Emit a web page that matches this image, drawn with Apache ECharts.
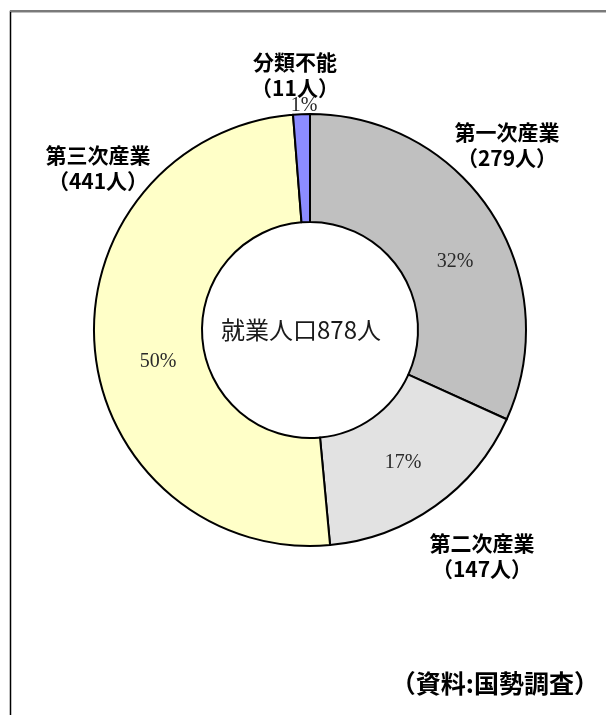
<!DOCTYPE html>
<html>
<head>
<meta charset="utf-8">
<script src="https://cdn.jsdelivr.net/npm/echarts@6/dist/echarts.min.js"></script>
<style>
  html, body { margin: 0; padding: 0; background: #fff; }
  #chart { width: 606px; height: 715px; }
</style>
</head>
<body>
<div id="chart"></div>
<script>
// データ（国勢調査 就業人口）
const categories = ['第一次産業', '第二次産業', '第三次産業', '分類不能'];
const workers = [279, 147, 441, 11];
const sliceColors = ['#c0c0c0', '#e2e2e2', '#ffffc8', '#8c8cff'];

// ラベル位置（ピクセル）
const namePos = [[507, 145], [482, 556], [98, 168], [295, 75]];
const pctPos = [[455, 262], [403, 463], [158, 362], [304, 106]];

const total = workers.reduce((a, b) => a + b, 0);
const pieData = categories.map((name, i) => ({
  name: name,
  value: workers[i],
  itemStyle: { color: sliceColors[i] }
}));

const chart = echarts.init(document.getElementById('chart'));

const option = {
  backgroundColor: '#fff',
  animation: false,
  graphic: [
    {
      type: 'rect',
      shape: { x: 10.5, y: 11.5, width: 700, height: 720 },
      style: { fill: 'none', stroke: '#000', lineWidth: 1.5 }
    },
    {
      type: 'line',
      shape: { x1: 10, y1: 11, x2: 606, y2: 11 },
      style: { stroke: '#7a7a7a', lineWidth: 2 }
    },
    {
      type: 'text',
      x: 301, y: 330,
      style: {
        text: '就業人口' + total + '人',
        font: '24px "Noto Sans CJK JP"',
        fill: '#1a1a1a',
        align: 'center',
        verticalAlign: 'middle'
      }
    },
    {
      type: 'text',
      x: 599, y: 683,
      style: {
        text: '（資料:国勢調査）',
        font: 'bold 25px "Noto Sans CJK JP"',
        fill: '#000',
        align: 'right',
        verticalAlign: 'middle'
      }
    }
  ],
  series: [
    {
      type: 'pie',
      center: [310, 330],
      radius: [108, 216],
      startAngle: 90,
      clockwise: true,
      avoidLabelOverlap: false,
      itemStyle: { borderColor: '#000', borderWidth: 2 },
      label: {
        show: true,
        position: 'inside',
        fontFamily: '"Liberation Serif", "DejaVu Serif", serif',
        fontSize: 20,
        color: '#2a2a2a',
        formatter: (p) => Math.round(p.percent) + '%'
      },
      labelLine: { show: false },
      labelLayout: (p) => ({
        x: pctPos[p.dataIndex][0],
        y: pctPos[p.dataIndex][1],
        align: 'center',
        verticalAlign: 'middle'
      }),
      emphasis: { disabled: true },
      data: pieData
    },
    {
      type: 'pie',
      center: [310, 330],
      radius: [108, 216],
      startAngle: 90,
      silent: true,
      avoidLabelOverlap: false,
      itemStyle: { color: 'transparent', borderWidth: 0 },
      label: {
        show: true,
        position: 'outside',
        fontFamily: '"Noto Sans CJK JP"',
        fontWeight: 'bold',
        fontSize: 21,
        lineHeight: 26,
        color: '#000',
        align: 'center',
        formatter: (p) => p.name + '\n（' + p.value + '人）'
      },
      labelLine: { show: false },
      labelLayout: (p) => ({
        x: namePos[p.dataIndex][0],
        y: namePos[p.dataIndex][1],
        align: 'center',
        verticalAlign: 'middle'
      }),
      emphasis: { disabled: true },
      data: pieData.map(d => ({ name: d.name, value: d.value }))
    }
  ]
};

chart.setOption(option);
</script>
</body>
</html>
